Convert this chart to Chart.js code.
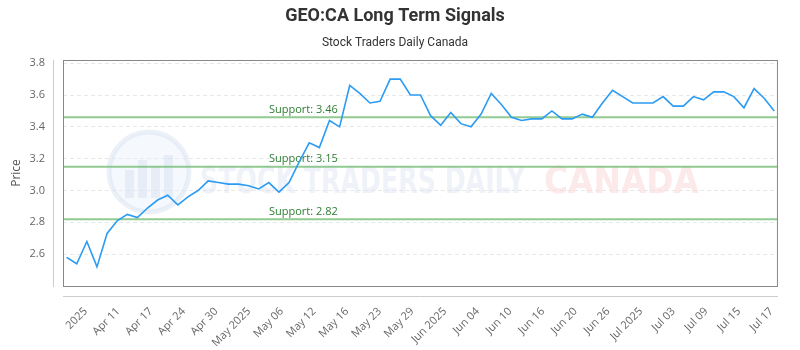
<!DOCTYPE html>
<html>
<head>
<meta charset="utf-8">
<script src="https://cdn.jsdelivr.net/npm/chart.js@4.4.1/dist/chart.umd.min.js"></script>
<style>
  html, body { margin: 0; padding: 0; background: #fff; }
</style>
</head>
<body>
<canvas id="chart" width="800" height="350"></canvas>
<script>
const ctx = document.getElementById("chart");

// closing prices, one per trading day
const prices = [
  2.58, 2.54, 2.68, 2.52, 2.73, 2.81, 2.85, 2.83, 2.89, 2.94,
  2.97, 2.91, 2.96, 3.00, 3.06, 3.05, 3.04, 3.04, 3.03, 3.01,
  3.05, 2.99, 3.05, 3.18, 3.30, 3.27, 3.44, 3.40, 3.66, 3.61,
  3.55, 3.56, 3.70, 3.70, 3.60, 3.60, 3.47, 3.41, 3.49, 3.42,
  3.40, 3.48, 3.61, 3.54, 3.46, 3.44, 3.45, 3.45, 3.50, 3.45,
  3.45, 3.48, 3.46, 3.55, 3.63, 3.59, 3.55, 3.55, 3.55, 3.59,
  3.53, 3.53, 3.59, 3.57, 3.62, 3.62, 3.59, 3.52, 3.64, 3.58,
  3.50
];

const tickLabels = [
  "2025", "Apr 11", "Apr 17", "Apr 24", "Apr 30", "May 2025", "May 06",
  "May 12", "May 16", "May 23", "May 29", "Jun 2025", "Jun 04", "Jun 10",
  "Jun 16", "Jun 20", "Jun 26", "Jul 2025", "Jul 03", "Jul 09", "Jul 15", "Jul 17"
];

const supports = [3.46, 3.15, 2.82];
const yTicks = [2.6, 2.8, 3.0, 3.2, 3.4, 3.6, 3.8];
const yMin = 2.40;
const yMax = 3.82;

// first tick sits a bit after the first day, then evenly spaced
const tickStart = 1.88;
const tickStep = 3.231;

const decor = {
  id: "decor",
  beforeDatasetsDraw(chart) {
    const c = chart.ctx;
    const y = chart.scales.y;
    const area = chart.chartArea;

    // watermark
    c.save();
    c.beginPath();
    c.arc(149, 172, 40, 0, Math.PI * 2);
    c.fillStyle = "rgba(230,237,247,0.4)";
    c.fill();
    c.lineWidth = 5;
    c.strokeStyle = "rgba(212,224,240,0.45)";
    c.stroke();
    c.fillStyle = "rgba(208,220,238,0.4)";
    c.fillRect(125, 170, 9, 28);
    c.fillRect(138, 160, 9, 38);
    c.fillRect(151, 166, 9, 32);
    c.fillRect(164, 155, 9, 43);

    c.font = "bold 38px 'DejaVu Sans'";
    c.textBaseline = "alphabetic";
    let txt = "STOCK TRADERS DAILY";
    let w = c.measureText(txt).width;
    c.save();
    c.translate(200, 193);
    c.scale(325 / w, 1);
    c.fillStyle = "rgba(220,227,239,0.45)";
    c.fillText(txt, 0, 0);
    c.restore();
    txt = "CANADA";
    w = c.measureText(txt).width;
    c.save();
    c.translate(544, 193);
    c.scale(155 / w, 1);
    c.fillStyle = "rgba(250,212,212,0.5)";
    c.fillText(txt, 0, 0);
    c.restore();
    c.restore();

    // support lines
    c.save();
    supports.forEach((s) => {
      const py = y.getPixelForValue(s);
      c.beginPath();
      c.moveTo(area.left, py);
      c.lineTo(area.right, py);
      c.lineWidth = 2;
      c.strokeStyle = "rgba(110,185,110,0.75)";
      c.stroke();
      c.font = "11px 'Open Sans'";
      c.fillStyle = "#2e7d32";
      c.textAlign = "left";
      c.textBaseline = "bottom";
      c.fillText("Support: " + s.toFixed(2), 269, py - 2);
    });
    c.restore();
  },
  afterDraw(chart) {
    const c = chart.ctx;
    const a = chart.chartArea;
    c.save();
    c.lineWidth = 1;
    c.strokeStyle = "#888";
    c.strokeRect(a.left + 0.5, a.top + 0.5, a.right - a.left - 1, a.bottom - a.top);
    c.strokeStyle = "#ccc";
    c.beginPath();
    c.moveTo(a.left - 9.5, a.top);
    c.lineTo(a.left - 9.5, a.bottom + 1);
    c.moveTo(a.left, a.bottom + 10.5);
    c.lineTo(a.right, a.bottom + 10.5);
    c.stroke();
    c.restore();
  }
};

new Chart(ctx, {
  type: "line",
  data: {
    datasets: [
      {
        label: "GEO:CA",
        data: prices.map((p, i) => ({ x: i, y: p })),
        borderColor: "#2b9bf4",
        borderWidth: 1.6,
        pointRadius: 0,
        tension: 0,
        fill: false,
      },
    ],
  },
  options: {
    responsive: false,
    animation: false,
    layout: { padding: { left: 0, right: 10, top: 0, bottom: 0 } },
    plugins: {
      legend: { display: false },
      tooltip: { enabled: false },
      title: {
        display: true,
        text: "GEO:CA Long Term Signals",
        color: "#333",
        font: { family: "'Liberation Sans Narrow', 'Roboto', sans-serif", size: 18, weight: "bold" },
        padding: { top: 6, bottom: 8 },
      },
      subtitle: {
        display: true,
        text: "Stock Traders Daily Canada",
        color: "#333",
        font: { family: "'Liberation Sans Narrow', 'Roboto', sans-serif", size: 12 },
        padding: { top: 0, bottom: 10 },
      },
    },
    scales: {
      x: {
        type: "linear",
        min: -0.36,
        max: 70.36,
        afterBuildTicks: (s) => {
          s.ticks = tickLabels.map((l, i) => ({ value: tickStart + i * tickStep }));
        },
        afterFit: (s) => { s.height = 64; },
        ticks: {
          autoSkip: false,
          maxRotation: 45,
          minRotation: 45,
          padding: 19,
          color: "#666",
          font: { family: "'Open Sans'", size: 11 },
          callback: (v, i) => tickLabels[i],
        },
        grid: { display: false, drawTicks: false },
        border: { display: false },
      },
      y: {
        min: yMin,
        max: yMax,
        afterBuildTicks: (s) => {
          s.ticks = yTicks.map((v) => ({ value: v }));
        },
        afterFit: (s) => { s.width = 63; },
        ticks: {
          padding: 18,
          color: "#666",
          font: { family: "'Open Sans'", size: 11 },
          callback: (v) => v.toFixed(1),
        },
        grid: { color: "#e8e8e8", drawTicks: false },
        border: { display: false, dash: [4, 3] },
        title: {
          display: true,
          text: "Price",
          color: "#555",
          font: { family: "'Open Sans'", size: 12 },
          padding: { top: 9, bottom: 0 },
        },
      },
    },
  },
  plugins: [decor],
});
</script>
</body>
</html>
